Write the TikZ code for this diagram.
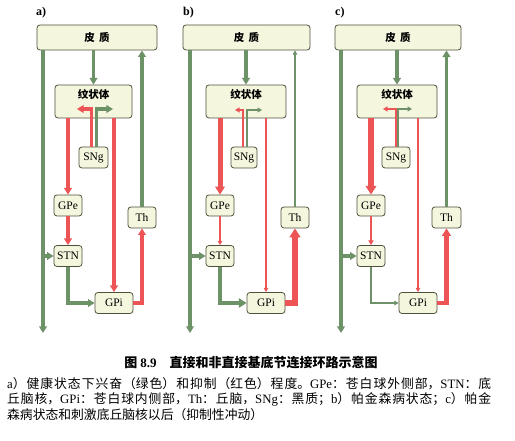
\documentclass[tikz,border=0pt]{standalone}
\usepackage{fontspec}
\setmainfont{Liberation Serif}
\newfontfamily\cjk{Noto Sans CJK SC}
\XeTeXlinebreaklocale "zh"
\XeTeXlinebreakskip=0pt plus 2pt
\usetikzlibrary{arrows.meta}
\definecolor{exc}{RGB}{110,146,104}
\definecolor{inh}{RGB}{236,84,86}
\definecolor{boxfill}{RGB}{245,246,222}
\definecolor{boxline}{RGB}{80,80,60}
\newcommand{\lt}[1]{{\rmfamily #1}}

\begin{document}
\begin{tikzpicture}[x=1pt,y=-1pt]
        \tikzset{box/.style={draw=boxline, fill=boxfill, rounded corners=3pt, line width=0.8pt,
                inner sep=0pt, minimum height=21pt, font=\fontsize{11.5}{12}\selectfont},
            cjkb/.style={font=\cjk\bfseries\fontsize{10.5}{12}\selectfont},
            big/.style={box, cjkb, minimum height=25pt},
            tag/.style={anchor=west, inner sep=0pt, font=\bfseries\fontsize{12}{12}\selectfont},
            tip/.style={-{Triangle[length=3pt 1,width=3pt 1.3]}},
            gline/.style={draw=exc, tip},
            rline/.style={draw=inh, tip}};
        \useasboundingbox (0,0) rectangle (515,441);

        % a) healthy
        \node[tag] (tagA) at (36,13) {a)};
        \node[big, minimum width=120pt] (ctxA) at (97,37.5) {皮\hspace{0.4em}质};
        \node[box, minimum width=77pt, minimum height=33pt,
            label={[cjkb, anchor=north, inner sep=0pt, yshift=-5pt]north:纹状体}] (strA) at (93.5,101.5) {};
        \node[box, minimum width=29pt] (sngA) at (93.5,157.5) {SNg};
        \node[box, minimum width=28pt] (gpeA) at (68,205.5) {GPe};
        \node[box, minimum width=28pt] (stnA) at (68,256) {STN};
        \node[box, minimum width=38pt] (gpiA) at (114,303) {GPi};
        \node[box, minimum width=28pt] (thA) at (142,217.5) {Th};
        \coordinate (endA) at (43,333);
        \coordinate (inhA) at (77,109);
        \coordinate (excA) at (113,109);
        \draw[gline, line width=3.6pt] (ctxA.south -| endA) -- (endA);
        \draw[gline, line width=3.6pt] (stnA.west -| endA) -- (stnA.west);
        \draw[gline, line width=3.6pt] (ctxA.south -| strA.north) -- (strA.north);
        \draw[rline, line width=3.6pt] (strA.south -| gpeA.north) -- (gpeA.north);
        \draw[rline, line width=3.6pt] (gpeA.south) -- (stnA.north);
        \draw[gline, line width=3.6pt] (stnA.south) |- (gpiA.west);
        \draw[rline, line width=3.6pt] (strA.south -| gpiA.north) -- (gpiA.north);
        \draw[rline, line width=3.6pt] (gpiA.east) -| (thA.south);
        \draw[gline, line width=3.6pt] (thA.north) -- (ctxA.south -| thA.north);
        \draw[rline, line width=3.6pt] ([xshift=-2pt]sngA.north) |- (inhA);
        \draw[gline, line width=3.6pt] ([xshift=3pt]sngA.north) |- (excA);

        % b) Parkinson
        \node[tag] (tagB) at (183,13) {b)};
        \node[big, minimum width=127pt] (ctxB) at (246.5,37.5) {皮\hspace{0.4em}质};
        \node[box, minimum width=80pt, minimum height=33pt,
            label={[cjkb, anchor=north, inner sep=0pt, yshift=-5pt]north:纹状体}] (strB) at (246,101.5) {};
        \node[box, minimum width=26pt] (sngB) at (244,157.5) {SNg};
        \node[box, minimum width=28pt] (gpeB) at (220,205.5) {GPe};
        \node[box, minimum width=28pt] (stnB) at (220,256) {STN};
        \node[box, minimum width=38pt] (gpiB) at (266,303) {GPi};
        \node[box, minimum width=28pt] (thB) at (295,217.5) {Th};
        \coordinate (endB) at (190,333);
        \coordinate (inhB) at (235,110);
        \coordinate (excB) at (262,110);
        \draw[gline, line width=3.6pt] (ctxB.south -| endB) -- (endB);
        \draw[gline, line width=3.6pt] (stnB.west -| endB) -- (stnB.west);
        \draw[gline, line width=3.6pt] (ctxB.south -| strB.north) -- (strB.north);
        \draw[rline, line width=5pt] (strB.south -| gpeB.north) -- (gpeB.north);
        \draw[rline, line width=1.2pt] (gpeB.south) -- (stnB.north);
        \draw[gline, line width=4.7pt] (stnB.south) |- (gpiB.west);
        \draw[rline, line width=1.2pt] (strB.south -| gpiB.north) -- (gpiB.north);
        \draw[rline, line width=6pt] (gpiB.east) -| (thB.south);
        \draw[gline, line width=1.2pt] (thB.north) -- (ctxB.south -| thB.north);
        \draw[rline, line width=1.5pt] ([xshift=-1pt]sngB.north) |- (inhB);
        \draw[gline, line width=1.5pt] ([xshift=3pt]sngB.north) |- (excB);

        % c) Parkinson + STN stimulation
        \node[tag] (tagC) at (335,13) {c)};
        \node[big, minimum width=126pt] (ctxC) at (398,37.5) {皮\hspace{0.4em}质};
        \node[box, minimum width=80pt, minimum height=33pt,
            label={[cjkb, anchor=north, inner sep=0pt, yshift=-5pt]north:纹状体}] (strC) at (397,101.5) {};
        \node[box, minimum width=28pt] (sngC) at (396,157.5) {SNg};
        \node[box, minimum width=28pt] (gpeC) at (371,205.5) {GPe};
        \node[box, minimum width=28pt] (stnC) at (371,256) {STN};
        \node[box, minimum width=38pt] (gpiC) at (418,303) {GPi};
        \node[box, minimum width=29pt] (thC) at (446.5,217.5) {Th};
        \coordinate (endC) at (341,333);
        \coordinate (inhC) at (383,109);
        \coordinate (excC) at (412,109);
        \draw[gline, line width=3.6pt] (ctxC.south -| endC) -- (endC);
        \draw[gline, line width=3.6pt] (stnC.west -| endC) -- (stnC.west);
        \draw[gline, line width=3.6pt] (ctxC.south -| strC.north) -- (strC.north);
        \draw[rline, line width=5.7pt] (strC.south -| gpeC.north) -- (gpeC.north);
        \draw[rline, line width=1.7pt] (gpeC.south) -- (stnC.north);
        \draw[gline, line width=1.2pt] (stnC.south) |- (gpiC.west);
        \draw[rline, line width=1.2pt] (strC.south -| gpiC.north) -- (gpiC.north);
        \draw[rline, line width=4.5pt] (gpiC.east) -| (thC.south);
        \draw[gline, line width=3.7pt] (thC.north) -- (ctxC.south -| thC.north);
        \draw[rline, line width=1.5pt] ([xshift=0pt]sngC.north) |- (inhC);
        \draw[gline, line width=1.5pt] ([xshift=2pt]sngC.north) |- (excC);

        % caption
        \node[font=\fontsize{13}{15}\selectfont] (title) at (251,363)
            {\cjk\bfseries 图 \lt{\bfseries 8.9}\quad 直接和非直接基底节连接环路示意图};
        \node[anchor=north west, inner sep=0pt, text width=484pt, align=justify,
            font=\fontsize{12.8}{15.5}\selectfont] (note) at (7,377)
            {\cjk \lt{a}）健康状态下兴奋（绿色）和抑制（红色）程度。\lt{GPe}：苍白球外侧部，\lt{STN}：底\linebreak 丘脑核，\lt{GPi}：苍白球内侧部，\lt{Th}：丘脑，\lt{SNg}：黑质；\lt{b}）帕金森病状态；\lt{c}）帕金\linebreak 森病状态和刺激底丘脑核以后（抑制性冲动）};
    \end{tikzpicture}
\end{document}
